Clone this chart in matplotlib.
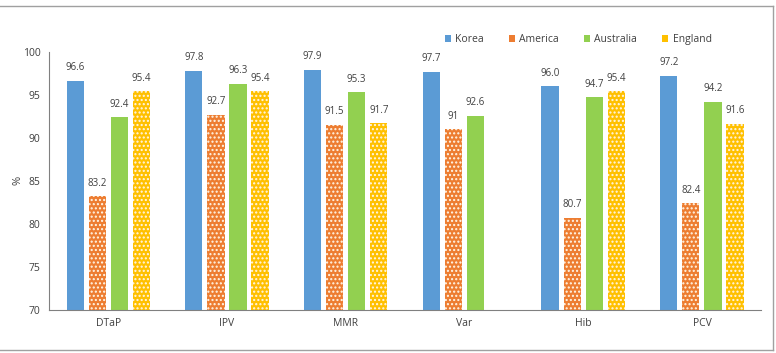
import matplotlib.pyplot as plt
import numpy as np
from matplotlib.lines import Line2D

plt.rcParams['font.family'] = ['Open Sans', 'DejaVu Sans']
plt.rcParams['hatch.linewidth'] = 1.0

# Data
vaccines = ['DTaP', 'IPV', 'MMR', 'Var', 'Hib', 'PCV']
countries = ['Korea', 'America', 'Australia', 'England']
korea = [96.6, 97.8, 97.9, 97.7, 96.0, 97.2]
america = [83.2, 92.7, 91.5, 91, 80.7, 82.4]
australia = [92.4, 96.3, 95.3, 92.6, 94.7, 94.2]
england = [95.4, 95.4, 91.7, np.nan, 95.4, 91.6]
korea_lbl = ['96.6', '97.8', '97.9', '97.7', '96.0', '97.2']
america_lbl = ['83.2', '92.7', '91.5', '91', '80.7', '82.4']
australia_lbl = ['92.4', '96.3', '95.3', '92.6', '94.7', '94.2']
england_lbl = ['95.4', '95.4', '91.7', '', '95.4', '91.6']

colors = ['#5B9BD5', '#ED7D31', '#92D050', '#FFC000']
hatches = [None, '....', None, '....']

fig = plt.figure(figsize=(7.76, 3.53), dpi=100)
ax = fig.add_axes([0.063, 0.122, 0.918, 0.731])

x = np.arange(len(vaccines))
pitch = 0.186
width = 0.145
series = [korea, america, australia, england]
labels = [korea_lbl, america_lbl, australia_lbl, england_lbl]

for i, (vals, lbls) in enumerate(zip(series, labels)):
    pos = x + (i - 1.5) * pitch
    v = np.array(vals, dtype=float)
    heights = np.where(np.isnan(v), 0, v - 70)
    if hatches[i]:
        bars = ax.bar(pos, heights, width, bottom=70, color=colors[i],
                      edgecolor='#FFF6E8', linewidth=0, hatch=hatches[i])
    else:
        bars = ax.bar(pos, heights, width, bottom=70, color=colors[i], linewidth=0)
    for b, lab, val in zip(bars, lbls, v):
        if np.isnan(val):
            continue
        ax.text(b.get_x() + b.get_width() / 2, val + 0.9, lab,
                ha='center', va='bottom', fontsize=7, color='#404040')

ax.set_xlim(-0.5, 5.5)
ax.set_ylim(70, 100)
ax.set_yticks(range(70, 101, 5))
ax.set_xticks(x)
ax.set_xticklabels(vaccines)
ax.tick_params(length=0, labelsize=7.5, colors='#404040', pad=6)
ax.set_ylabel('%', fontsize=8, color='#404040')
ax.yaxis.set_label_coords(-0.036, 0.5)
for s in ['top', 'right']:
    ax.spines[s].set_visible(False)
ax.spines['left'].set_color('#808080')
ax.spines['bottom'].set_color('#808080')

handles = [plt.Rectangle((0, 0), 1, 1, color=colors[i], linewidth=0) for i in range(4)]
fig.legend(handles, countries, loc='center', bbox_to_anchor=(0.745, 0.887),
           ncol=4, frameon=False, fontsize=7.5, handlelength=0.6, handleheight=0.6,
           columnspacing=2.4, handletextpad=0.4, labelcolor='#404040')

# outer frame
fc = '#A0A0A0'
fig.add_artist(Line2D([0, 0.9965], [0.983, 0.983], color=fc, lw=1, transform=fig.transFigure))
fig.add_artist(Line2D([0, 0.9965], [0.008, 0.008], color=fc, lw=1, transform=fig.transFigure))
fig.add_artist(Line2D([0.9965, 0.9965], [0.008, 0.983], color=fc, lw=1, transform=fig.transFigure))

fig.savefig('out.png', dpi=100)
